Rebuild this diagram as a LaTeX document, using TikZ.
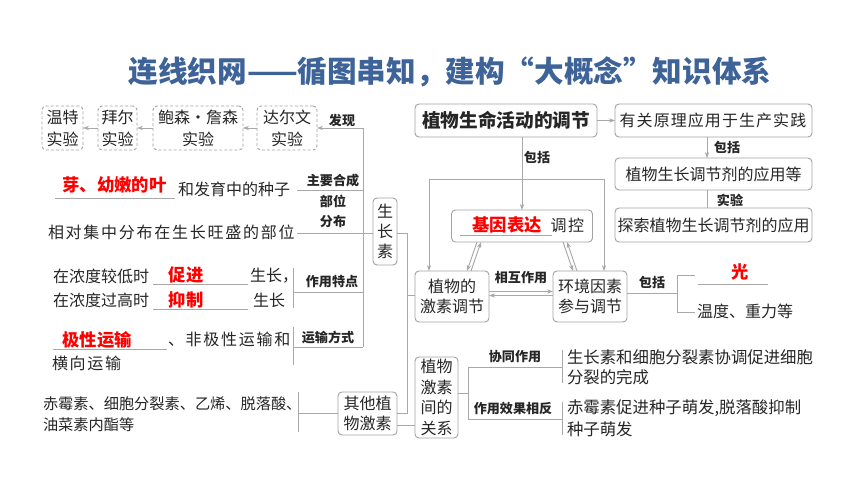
\documentclass[tikz,border=0pt]{standalone}
\usepackage{fontspec}
\setmainfont{Noto Sans CJK SC}
\usetikzlibrary{arrows.meta}
\definecolor{lncol}{HTML}{A8A8A8}
\definecolor{bdcol}{HTML}{A3A3A3}
\definecolor{txcol}{HTML}{262626}
\definecolor{rdcol}{HTML}{FF0000}
\definecolor{ttlcol}{HTML}{3E6399}
\newdimen\pxu \pxu=0.75pt
\let\lsend\relax
\def\ls#1#2{\def\lskern{#1}\lsa#2\lsend}
\def\lsa#1{\ifx#1\lsend\else#1\kern\lskern\expandafter\lsa\fi}
\begin{document}
\begin{tikzpicture}[x=0.75pt,y=-0.75pt,
  every node/.style={text=txcol, inner sep=0pt, outer sep=0pt},
  txt/.style={font=\fontsize{12pt}{16.5pt}\selectfont},
  txs/.style={font=\fontsize{11.4pt}{15.8pt}\selectfont},
  txr/.style={font=\fontsize{12.3pt}{15.8pt}\selectfont},
  lbl/.style={font=\fontsize{9.8pt}{12pt}\selectfont\bfseries},
  rtxt/.style={text=rdcol, font=\fontsize{13pt}{15pt}\selectfont\bfseries},
  box/.style={draw=bdcol, rounded corners=3pt, line width=0.7pt, align=center, txt},
  dbox/.style={box, dash pattern=on 2.2pt off 1.6pt},
  lnk/.style={draw=lncol, line width=0.7pt},
  arr/.style={lnk, -{Stealth[length=4.5pt,width=3.2pt]}},
  uline/.style={draw=lncol, line width=0.6pt},
]
\useasboundingbox[fill=white] (0,0) rectangle (860,484);

% title
\node[font=\fontsize{22.2pt}{25pt}\selectfont\bfseries, text=ttlcol] (title) at (450,72) {连线织网——循图串知，建构“大概念”知识体系};

% discovery chain
\node[dbox, minimum width=41\pxu, minimum height=44\pxu] (wt) at (62.5,128) {温特\\实验};
\node[dbox, minimum width=39\pxu, minimum height=44\pxu] (be) at (117.5,128) {拜尔\\实验};
\node[dbox, minimum width=90\pxu, minimum height=44\pxu] (bs) at (198,128) {鲍森·詹森\\实验};
\node[dbox, minimum width=60\pxu, minimum height=44\pxu] (dw) at (287,128) {达尔文\\实验};
\draw[arr] (dw) -- (bs);
\draw[arr] (bs) -- (be);
\draw[arr] (be) -- (wt);

% left trunk
\coordinate (t1) at (363,128);
\coordinate (t2) at (363,190);
\coordinate (t4) at (363,292);
\coordinate (t5) at (363,347);
\draw[lnk] (t1) -- (t5);
\draw[arr] (t1) -- (dw.east);
\node[lbl] (lfx) at (342,120) {发现};

\coordinate (e2) at (297,190);
\draw[lnk] (e2) -- (t2);
\node[lbl] (lzy) at (333,181) {主要合成};
\node[lbl] (lbw) at (333,201) {部位};
\node[lbl] (lfb) at (333,222) {分布};

\node[box, minimum width=24\pxu, minimum height=67\pxu, font=\fontsize{12pt}{15pt}\selectfont] (szs) at (385,231.5) {生\\长\\素};
\coordinate (e3) at (297,233);
\draw[lnk] (e3) -- (e3 -| szs.west);

\coordinate (e4) at (293,292);
\coordinate (b4a) at (293,268);
\coordinate (b4b) at (293,308);
\draw[lnk] (e4) -- (t4);
\draw[lnk] (b4a) -- (b4b);
\node[lbl] (ltd) at (332,282) {作用特点};

\coordinate (e5) at (293,347);
\coordinate (b5a) at (293,327);
\coordinate (b5b) at (293,365);
\draw[lnk] (e5) -- (t5);
\draw[lnk] (b5a) -- (b5b);
\node[lbl] (lys) at (328,338) {运输方式};

% left texts
\node[rtxt] (ya) at (114.5,185) {芽、幼嫩的叶};
\draw[uline] (55,198) -- (175,198);
\node[txt, anchor=west] (hfy) at (178,189) {和发育中的种子};
\node[txt, anchor=west] (xd) at (48,232) {\ls{1.3pt}{相对集中分布在生长旺盛的部位}};

\node[txt, anchor=west] (nd1) at (53,276) {在浓度较低时};
\node[rtxt] (cj) at (186,275) {促进};
\draw[uline] (153,284) -- (248,284);
\node[txt, anchor=west] (sz1) at (250,276) {生长，};
\node[txt, anchor=west] (nd2) at (53,300) {在浓度过高时};
\node[rtxt] (yz) at (186,300) {抑制};
\draw[uline] (153,309) -- (248,309);
\node[txt, anchor=west] (sz2) at (253,300) {生长};

\node[rtxt] (jx) at (97,340) {极性运输};
\draw[uline] (53,349) -- (167,349);
\node[txt, anchor=west] (fjx) at (168,339) {\ls{1.3pt}{、非极性运输和}};
\node[txt, anchor=west] (hx) at (52,363) {\ls{1.3pt}{横向运输}};

% other hormones
\node[box, minimum width=59\pxu, minimum height=43\pxu, font=\fontsize{12pt}{15.5pt}\selectfont] (qt) at (367.5,413.5) {其他植\\物激素};
\coordinate (e6) at (298,413);
\coordinate (b6a) at (298,392);
\coordinate (b6b) at (298,432);
\draw[lnk] (e6) -- (e6 -| qt.west);
\draw[lnk] (b6a) -- (b6b);
\node[txs, anchor=west] (cm1) at (43,404) {赤霉素、细胞分裂素、乙烯、脱落酸、};
\node[txs, anchor=west] (cm2) at (43,425) {油菜素内酯等};

% right top
\node[box, minimum width=182\pxu, minimum height=33\pxu, font=\fontsize{14pt}{16pt}\selectfont\bfseries] (zw) at (506,120.5) {植物生命活动的调节};
\node[box, minimum width=197\pxu, minimum height=33\pxu] (yg) at (713.5,120.5) {\ls{0.8pt}{有关原理应用于生产实践}};
\draw[arr] (zw) -- (yg);
\node[box, minimum width=197\pxu, minimum height=32\pxu] (zt) at (713.5,174) {植物生长调节剂的应用等};
\node[box, minimum width=197\pxu, minimum height=34\pxu] (ts) at (713.5,225) {探索植物生长调节剂的应用};
\draw[arr] ([xshift=-6.5\pxu]yg.south) -- ([xshift=-6.5\pxu]zt.north);
\draw[lnk] ([xshift=-6.5\pxu]zt.south) -- ([xshift=-6.5\pxu]ts.north);
\node[lbl] (lbk1) at (727,148) {包括};
\node[lbl] (lsy) at (730,200) {实验};

% gene expression
\node[box, minimum width=141\pxu, minimum height=32\pxu] (jy) at (522,226) {};
\node[rtxt] (jybd) at (507,224.5) {基因表达};
\draw[uline] (460,235) -- (552,235);
\node[txt] (tk) at (568,225) {\ls{1pt}{调控}};
\draw[arr] ([xshift=16\pxu]zw.south) -- (jy.north);
\node[lbl] (lbk2) at (537,158) {包括};

\node[box, minimum width=74\pxu, minimum height=51\pxu, font=\fontsize{12pt}{14.5pt}\selectfont] (jsd) at (452,296.5) {植物的\\激素调节};
\node[box, minimum width=74\pxu, minimum height=51\pxu, font=\fontsize{12pt}{14.5pt}\selectfont] (hj) at (590,296.5) {环境因素\\参与调节};

\coordinate (lp1) at (429,179);
\coordinate (lp2) at (604,179);
\draw[lnk] (lp1) -- (lp2);
\draw[arr] (lp1) -- (lp1 |- jsd.north);
\draw[arr] (lp2) -- (lp2 |- hj.north);

% double arrows
\draw[arr] ([xshift=-45\pxu]jy.south) -- ([xshift=15\pxu]jsd.north);
\draw[arr] ([xshift=19\pxu]jsd.north) -- ([xshift=-41\pxu]jy.south);
\draw[arr] ([xshift=41\pxu]jy.south) -- ([xshift=-17\pxu]hj.north);
\draw[arr] ([xshift=-13\pxu]hj.north) -- ([xshift=45\pxu]jy.south);
\draw[arr] ([yshift=5\pxu]jsd.east) -- ([yshift=5\pxu]hj.west);
\draw[arr] ([yshift=1\pxu]hj.west) -- ([yshift=1\pxu]jsd.east);
\node[lbl] (lxh) at (521,278) {相互作用};

% left connection trunk
\coordinate (r1) at (407,233);
\coordinate (r2) at (407,295);
\coordinate (r3) at (407,413);
\draw[lnk] (r1 -| szs.east) -- (r1) -- (r3) -- (r3 -| qt.east);
\draw[lnk] (r2) -- (r2 -| jsd.west);

% environment factors
\coordinate (g1) at (677,293);
\coordinate (g2) at (677,275);
\coordinate (g3) at (677,312);
\coordinate (g2e) at (695,275);
\coordinate (g3e) at (695,312);
\draw[lnk] (g1 -| hj.east) -- (g1);
\draw[lnk] (g2e) -- (g2) -- (g3) -- (g3e);
\node[lbl] (lbk3) at (652,283) {包括};
\draw[uline] (698,284) -- (768,284);
\node[rtxt] (gg) at (740,272) {光};
\node[txt] (wd) at (745,311) {温度、重力等};

% relations
\node[box, minimum width=43\pxu, minimum height=81\pxu, font=\fontsize{12pt}{15.4pt}\selectfont] (gx) at (436.5,397.5) {植物\\激素\\间的\\关系};
\coordinate (c425) at (406,425);
\draw[lnk] (c425 -| qt.east) -- (c425 -| gx.west);
\coordinate (k0) at (468,393);
\coordinate (k1) at (468,367);
\coordinate (k2) at (468,419);
\coordinate (k1e) at (562,367);
\coordinate (k2e) at (562,419);
\draw[lnk] (k0 -| gx.east) -- (k0);
\draw[lnk] (k1e) -- (k1) -- (k2) -- (k2e);
\coordinate (m1) at (562,350);
\coordinate (m2) at (562,383);
\coordinate (m3) at (562,402);
\coordinate (m4) at (562,435);
\draw[lnk] (m1) -- (m2);
\draw[lnk] (m3) -- (m4);
\node[lbl] (lxt) at (515,357) {协同作用};
\node[lbl] (lxf) at (513,409) {作用效果相反};
\node[txr, anchor=west] (r1t) at (567,357) {生长素和细胞分裂素协调促进细胞};
\node[txr, anchor=west] (r2t) at (567,377) {分裂的完成};
\node[txr, anchor=west] (r3t) at (567,408) {赤霉素促进种子萌发,脱落酸抑制};
\node[txr, anchor=west] (r4t) at (567,429) {种子萌发};
\end{tikzpicture}
\end{document}
